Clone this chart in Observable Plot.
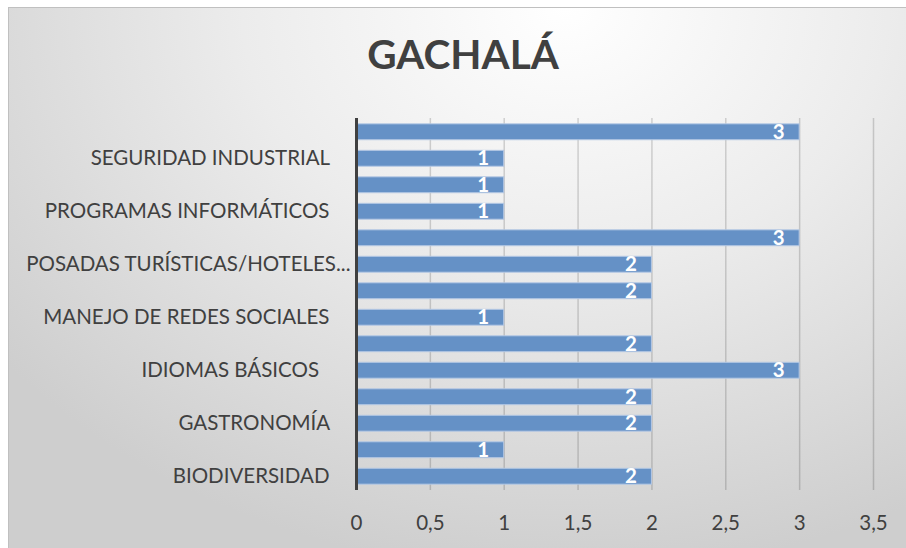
<!DOCTYPE html>
<html>
<head>
<meta charset="utf-8">
<script src="https://cdn.jsdelivr.net/npm/d3@7"></script>
<script src="https://cdn.jsdelivr.net/npm/@observablehq/plot@0.6"></script>
<style>
  html, body { margin: 0; padding: 0; background: #fff; }
  #wrap { position: relative; width: 906px; height: 548px; overflow: hidden; }
  #bg { position: absolute; left: 8px; top: 7px; width: 898px; height: 541px;
        border-top: 1px solid #c0c0c0; border-left: 1px solid #c0c0c0; box-sizing: border-box;
        background: radial-gradient(ellipse 80% 105% at 62% 0%, #ffffff 0%, #ececec 45%, #cecece 100%); }
  #title { position: absolute; left: 0; top: 29px; width: 926px; text-align: center;
           font-family: Lato, sans-serif; font-weight: bold; font-size: 40.5px; color: #404040; }
  #chart { position: absolute; left: 0; top: 0; }
  #chart svg { background: transparent; }
</style>
</head>
<body>
<div id="wrap">
  <div id="bg"></div>
  <div id="title">GACHALÁ</div>
  <div id="chart"></div>
</div>
<script>
// Categories bottom to top (as in the reference); only every other one is labelled
const categories = [
  "BIODIVERSIDAD",
  "EMPRENDIMIENTO",
  "GASTRONOMÍA",
  "GUIANZA TURÍSTICA",
  "IDIOMAS BÁSICOS",
  "LIDERAZGO",
  "MANEJO DE REDES SOCIALES",
  "MERCADEO",
  "POSADAS TURÍSTICAS/HOTELES...",
  "PRIMEROS AUXILIOS",
  "PROGRAMAS INFORMÁTICOS",
  "SEGURIDAD ALIMENTARIA",
  "SEGURIDAD INDUSTRIAL",
  "TURISMO"
];
const values = [2, 1, 2, 2, 3, 2, 1, 2, 2, 3, 1, 1, 1, 3];
const shownLabels = [
  "BIODIVERSIDAD",
  "GASTRONOMÍA",
  "IDIOMAS BÁSICOS",
  "MANEJO DE REDES SOCIALES",
  "POSADAS TURÍSTICAS/HOTELES...",
  "PROGRAMAS INFORMÁTICOS",
  "SEGURIDAD INDUSTRIAL"
];
// trailing spaces in the original labels
const labelPadding = {
  "BIODIVERSIDAD": 4,
  "GASTRONOMÍA": 4,
  "IDIOMAS BÁSICOS": 6,
  "MANEJO DE REDES SOCIALES": 4,
  "POSADAS TURÍSTICAS/HOTELES...": 0,
  "PROGRAMAS INFORMÁTICOS": 4,
  "SEGURIDAD INDUSTRIAL": 4
};
const xTicks = [0, 0.5, 1, 1.5, 2, 2.5, 3, 3.5];

const data = categories.map((c, i) => ({category: c, value: values[i]}));
const fmt = v => String(v).replace(".", ",");

const chart = Plot.plot({
  width: 906,
  height: 548,
  marginLeft: 356,
  marginRight: 33,
  marginTop: 118,
  marginBottom: 58,
  style: {fontFamily: "Lato, sans-serif", fontSize: "20.5px", color: "#404040", background: "transparent"},
  x: {domain: [0, 3.5], ticks: xTicks, tickFormat: fmt, label: null},
  y: {domain: categories.slice().reverse(), paddingInner: 0.4, paddingOuter: 0.22, round: false, label: null},
  marks: [
    Plot.gridX(xTicks.slice(1), {stroke: "#000", strokeOpacity: 0.16, strokeWidth: 1.5}),
    Plot.barX(data, {y: "category", x: "value", fill: "#6591c6", stroke: "#b4c8e4", strokeWidth: 1}),
    Plot.text(data, {y: "category", x: "value", text: d => fmt(d.value), textAnchor: "middle", dx: -21,
      fill: "white", fontWeight: "bold", fontSize: 20.5}),
    Plot.axisY({ticks: shownLabels, tickSize: 0, tickPadding: 6,
      tickFormat: d => d + "\u00a0".repeat(labelPadding[d] || 0), fill: "#404040"}),
    Plot.axisX({ticks: xTicks, tickSize: 0, tickPadding: 25, tickFormat: fmt, fill: "#404040", label: null}),
    Plot.ruleX([0], {stroke: "#404040", strokeWidth: 3})
  ]
});
document.getElementById("chart").appendChild(chart);
</script>
</body>
</html>
